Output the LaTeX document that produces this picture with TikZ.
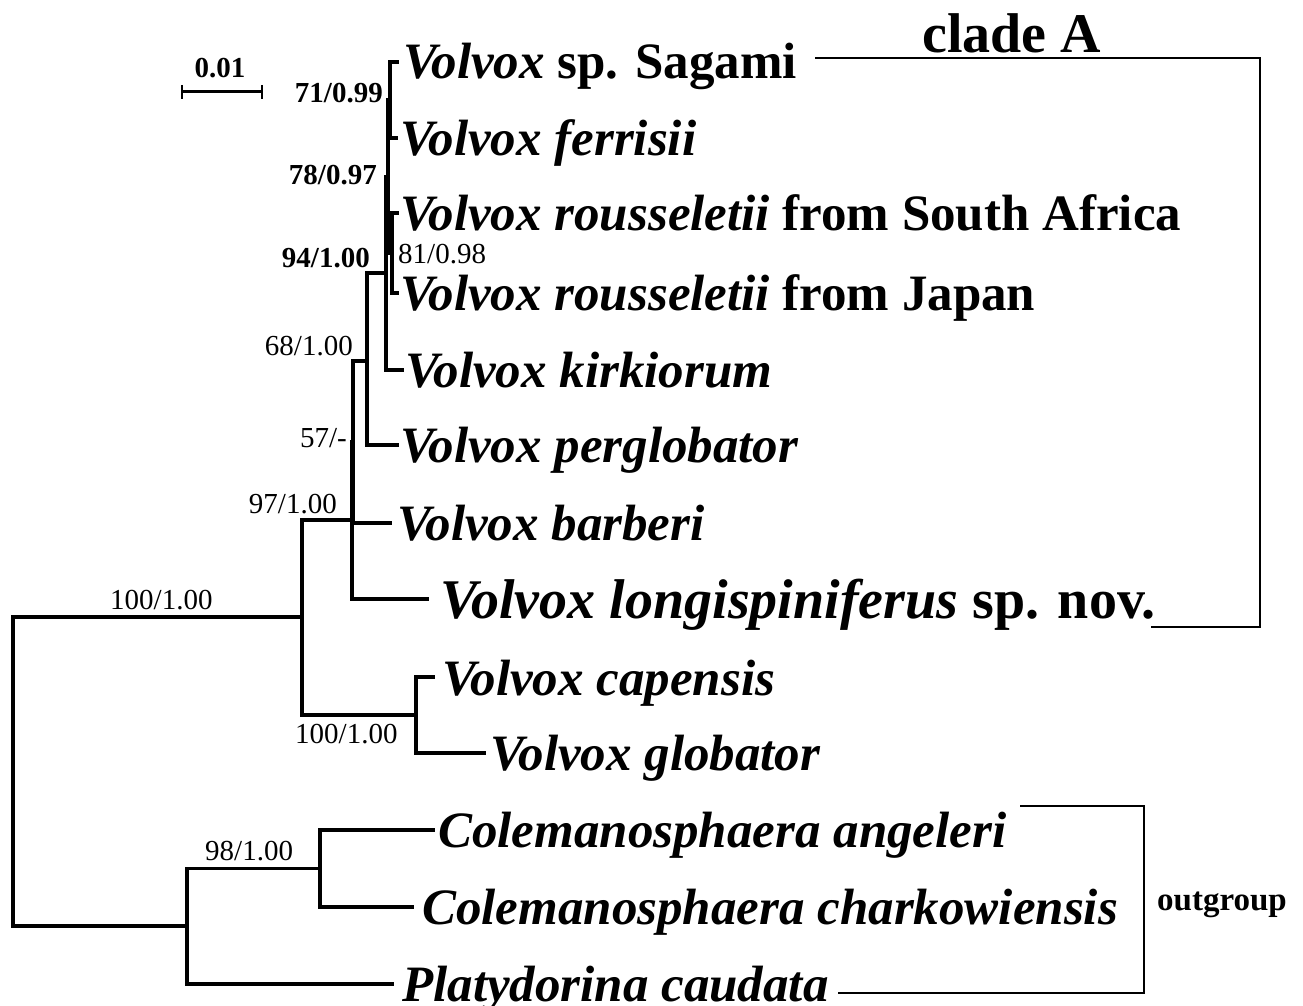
\documentclass[tikz,border=0pt]{standalone}
\usepackage{fontspec}
\setmainfont{Liberation Serif}
\begin{document}
\begin{tikzpicture}[x=1pt,y=-1pt,
  br/.style={line width=3.5pt,line join=miter,line cap=rect},
  brk/.style={line width=1.5pt},
  taxon/.style={anchor=base west,inner sep=0pt,font=\fontsize{51}{51}\selectfont\bfseries},
  bigtaxon/.style={anchor=base west,inner sep=0pt,font=\fontsize{56}{56}\selectfont\bfseries},
  supp/.style={inner sep=0pt,font=\fontsize{29}{29}\selectfont},
  suppb/.style={inner sep=0pt,font=\fontsize{29}{29}\selectfont\bfseries}]
\useasboundingbox (0,0) rectangle (1303,1006);
% internal nodes
\coordinate (root) at (13,770.5);
\coordinate (nA) at (302,617);
\coordinate (n97) at (352,520);
\coordinate (n57) at (353,442);
\coordinate (n68) at (367,361);
\coordinate (n94) at (386,273);
\coordinate (n78) at (388,177);
\coordinate (n71) at (390,100);
\coordinate (n81) at (392,253);
\coordinate (nCap) at (416,715);
\coordinate (nOut) at (187,926);
\coordinate (nCol) at (320,868.5);
% tips
\coordinate (t1) at (397,62);
\coordinate (t2) at (396,138);
\coordinate (t3) at (397,213);
\coordinate (t4) at (397,293);
\coordinate (t5) at (402,370);
\coordinate (t6) at (397,445);
\coordinate (t7) at (390,523);
\coordinate (t8) at (427,599);
\coordinate (t9) at (433,677);
\coordinate (t10) at (484,753);
\coordinate (t11) at (433,830);
\coordinate (t12) at (412,907);
\coordinate (t13) at (392,984);
% branches
\draw[br] (root) |- (nA);
\draw[br] (root) |- (nOut);
\draw[br] (nA) |- (n97);
\draw[br] (nA) |- (nCap);
\draw[br] (n97) |- (n57);
\draw[br] (n97) |- (t8);
\draw[br] (n57) |- (n68);
\draw[br] (n57) |- (t7);
\draw[br] (n68) |- (n94);
\draw[br] (n68) |- (t6);
\draw[br] (n94) |- (n78);
\draw[br] (n94) |- (t5);
\draw[br] (n78) |- (n71);
\draw[br] (n78) |- (n81);
\draw[br] (n71) |- (t1);
\draw[br] (n71) |- (t2);
\draw[br] (n81) |- (t3);
\draw[br] (n81) |- (t4);
\draw[br] (nCap) |- (t9);
\draw[br] (nCap) |- (t10);
\draw[br] (nOut) |- (nCol);
\draw[br] (nOut) |- (t13);
\draw[br] (nCol) |- (t11);
\draw[br] (nCol) |- (t12);
% taxa
\node[taxon] (L1) at (403,79) {\textit{Volvox} sp. Sagami};
\node[taxon] (L2) at (400,155) {\textit{Volvox ferrisii}};
\node[taxon] (L3) at (400,230) {\textit{Volvox rousseletii} from South Africa};
\node[taxon] (L4) at (400,310) {\textit{Volvox rousseletii} from Japan};
\node[taxon] (L5) at (405,387) {\textit{Volvox kirkiorum}};
\node[taxon] (L6) at (400,462) {\textit{Volvox perglobator}};
\node[taxon] (L7) at (397,540) {\textit{Volvox barberi}};
\node[bigtaxon] (L8) at (440,618) {\textit{Volvox longispiniferus} sp. nov.};
\node[taxon] (L9) at (442,695) {\textit{Volvox capensis}};
\node[taxon] (L10) at (490,770) {\textit{Volvox globator}};
\node[taxon] (L11) at (438,847) {\textit{Colemanosphaera angeleri}};
\node[taxon] (L12) at (422,924) {\textit{Colemanosphaera charkowiensis}};
\node[taxon] (L13) at (402,1001) {\textit{Platydorina caudata}};
% support values
\node[suppb,anchor=base] (s0) at (220,78) {0.01};
\node[suppb,anchor=base east] (s71) at (383,103) {71/0.99};
\node[suppb,anchor=base east] (s78) at (377,184) {78/0.97};
\node[suppb,anchor=base east] (s94) at (370,267) {94/1.00};
\node[supp,anchor=base west] (s81) at (398,263) {81/0.98};
\node[supp,anchor=base east] (s68) at (353,355) {68/1.00};
\node[supp,anchor=base east] (s57) at (347,447) {57/-};
\node[supp,anchor=base east] (s97) at (337,513) {97/1.00};
\node[supp,anchor=base west] (s100a) at (110,609) {100/1.00};
\node[supp,anchor=base west] (s100b) at (295,743) {100/1.00};
\node[supp,anchor=base west] (s98) at (205,860) {98/1.00};
% scale bar
\coordinate (sbL) at (182,92);
\coordinate (sbR) at (262,92);
\draw[line width=3pt] (sbL) -- (sbR);
\draw[line width=2.5pt] ([yshift=7pt]sbL) -- ([yshift=-7pt]sbL);
\draw[line width=2.5pt] ([yshift=7pt]sbR) -- ([yshift=-7pt]sbR);
% clade brackets
\node[anchor=base west,inner sep=0pt,font=\fontsize{56}{56}\selectfont\bfseries] (cA) at (922,53) {clade A};
\coordinate (cA1) at (815,58);
\coordinate (cA2) at (1260,58);
\coordinate (cA3) at (1260,627);
\coordinate (cA4) at (1151,627);
\draw[brk] (cA1) -- (cA2) -- (cA3) -- (cA4);
\node[anchor=base west,inner sep=0pt,font=\fontsize{33}{33}\selectfont\bfseries] (og) at (1157,910) {outgroup};
\coordinate (og1) at (1020,806);
\coordinate (og2) at (1144,806);
\coordinate (og3) at (1144,993);
\coordinate (og4) at (838,993);
\draw[brk] (og1) -- (og2) -- (og3) -- (og4);
\end{tikzpicture}
\end{document}
